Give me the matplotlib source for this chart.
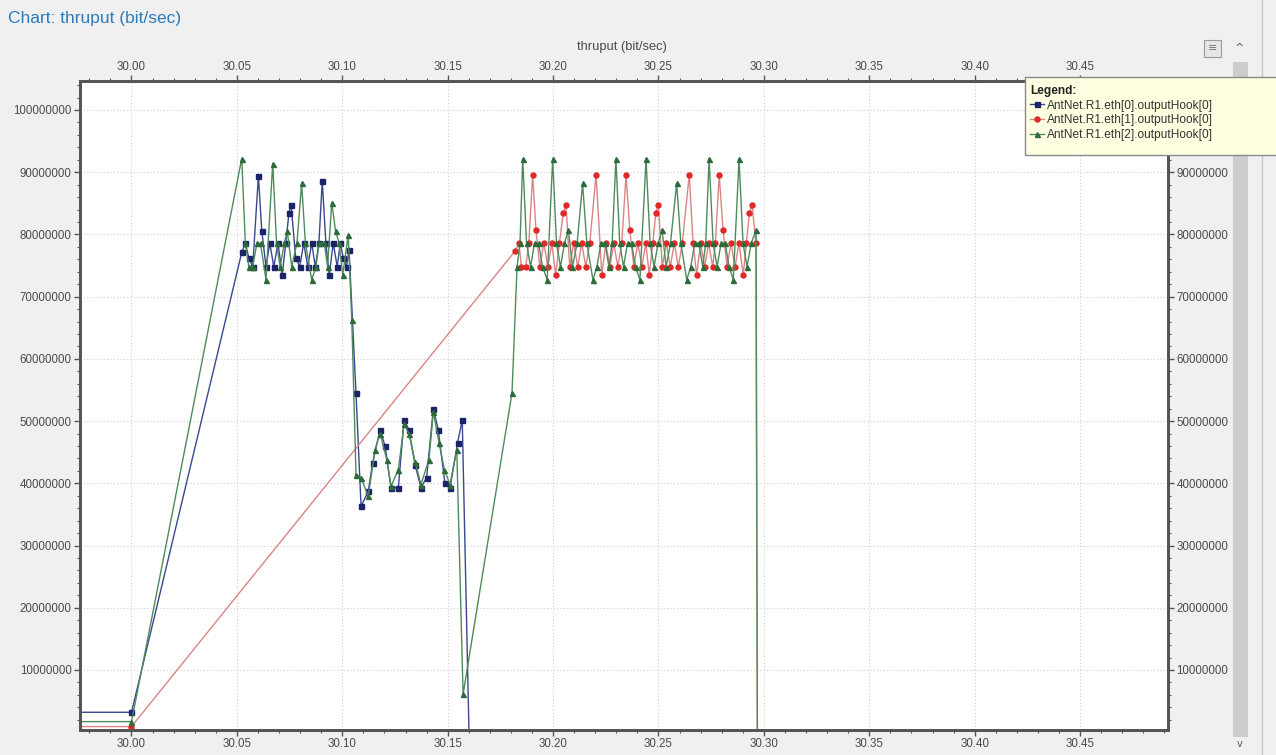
import matplotlib
matplotlib.use("Agg")
import matplotlib.pyplot as plt
from matplotlib.ticker import MultipleLocator, FuncFormatter
from matplotlib.patches import Rectangle
from matplotlib.lines import Line2D

# ---------------- data (time in s, throughput in Mbit/s) ----------------
blue_t = [29.90, 30.0000, 30.0523, 30.0540, 30.0557, 30.0575, 30.0602, 30.0618, 30.0638,
          30.0656, 30.0675, 30.0695, 30.0715, 30.0732, 30.0747, 30.0757, 30.0779, 30.0798,
          30.0817, 30.0836, 30.0855, 30.0872, 30.0889, 30.0905, 30.0922, 30.0938, 30.0957,
          30.0976, 30.0990, 30.1005, 30.1020, 30.1032, 30.1065, 30.1089, 30.1123, 30.1144,
          30.1179, 30.1203, 30.1231, 30.1266, 30.1293, 30.1316, 30.1345, 30.1373, 30.1400,
          30.1432, 30.1455, 30.1487, 30.1511, 30.1547, 30.1569, 30.1601]
blue_v = [3.2, 3.2, 77.1, 78.6, 76.2, 74.8, 89.4, 80.6, 74.8,
          78.6, 74.8, 78.6, 73.5, 78.6, 83.5, 84.8, 76.2, 74.8,
          78.6, 74.8, 78.6, 74.8, 78.6, 88.6, 78.6, 73.5, 78.6,
          74.8, 78.6, 76.2, 74.8, 77.5, 54.5, 36.3, 38.7, 43.3,
          48.6, 46.0, 39.3, 39.3, 50.2, 48.6, 43.0, 39.3, 40.9,
          52.0, 48.6, 40.0, 39.3, 46.5, 50.2, 0.0]

red_t = [29.90, 30.0000, 30.1819, 30.1838, 30.1850, 30.1870, 30.1885, 30.1903, 30.1919,
         30.1937, 30.1956, 30.1975, 30.1994, 30.2012, 30.2030, 30.2048, 30.2061, 30.2079,
         30.2098, 30.2117, 30.2136, 30.2155, 30.2174, 30.2204, 30.2231, 30.2250, 30.2269,
         30.2288, 30.2307, 30.2326, 30.2346, 30.2364, 30.2383, 30.2402, 30.2421, 30.2440,
         30.2456, 30.2473, 30.2487, 30.2499, 30.2518, 30.2537, 30.2556, 30.2575, 30.2594,
         30.2613, 30.2646, 30.2664, 30.2681, 30.2700, 30.2719, 30.2738, 30.2757, 30.2770,
         30.2788, 30.2806, 30.2825, 30.2844, 30.2863, 30.2882, 30.2902, 30.2917, 30.2931,
         30.2944, 30.2962, 30.2969]
red_v = [0.9, 0.9, 77.3, 78.6, 74.8, 74.8, 78.6, 89.6, 80.7,
         74.8, 78.6, 74.8, 78.6, 73.5, 78.6, 83.4, 84.8, 74.8,
         78.6, 74.8, 78.6, 74.8, 78.6, 89.6, 73.5, 78.6, 74.8,
         78.6, 74.8, 78.6, 89.6, 80.7, 74.8, 78.6, 74.8, 78.6,
         73.5, 78.6, 83.4, 84.8, 74.8, 78.6, 74.8, 78.6, 74.8,
         78.6, 89.6, 78.6, 73.5, 78.6, 74.8, 78.6, 74.8, 78.6,
         89.6, 80.7, 74.8, 78.6, 74.8, 78.6, 73.5, 78.6, 83.4,
         84.8, 78.6, 0.0]

green_t = [29.90, 30.0000, 30.0523, 30.0540, 30.0557, 30.0575, 30.0595, 30.0612, 30.0638,
           30.0670, 30.0688, 30.0705, 30.0725, 30.0739, 30.0760, 30.0785, 30.0807, 30.0825,
           30.0855, 30.0875, 30.0890, 30.0915, 30.0930, 30.0950, 30.0968, 30.0985, 30.1002,
           30.1028, 30.1045, 30.1065, 30.1089, 30.1123, 30.1155, 30.1179, 30.1211, 30.1231,
           30.1266, 30.1293, 30.1316, 30.1345, 30.1373, 30.1411, 30.1432, 30.1459, 30.1484,
           30.1511, 30.1543, 30.1573, 30.1805, 30.1829, 30.1843, 30.1856, 30.1874, 30.1893,
           30.1912, 30.1931, 30.1950, 30.1972, 30.1998, 30.2016, 30.2035, 30.2054, 30.2073,
           30.2092, 30.2114, 30.2140, 30.2160, 30.2189, 30.2208, 30.2227, 30.2246, 30.2265,
           30.2280, 30.2298, 30.2316, 30.2334, 30.2353, 30.2372, 30.2391, 30.2412, 30.2441,
           30.2460, 30.2479, 30.2498, 30.2517, 30.2536, 30.2557, 30.2586, 30.2606, 30.2634,
           30.2653, 30.2672, 30.2691, 30.2710, 30.2724, 30.2740, 30.2759, 30.2778, 30.2797,
           30.2816, 30.2835, 30.2855, 30.2882, 30.2901, 30.2920, 30.2940, 30.2963, 30.2969]
green_v = [1.7, 1.7, 92.2, 78.6, 74.8, 74.8, 78.6, 78.6, 72.7,
           91.4, 78.6, 74.8, 78.6, 80.5, 74.8, 78.6, 88.2, 78.6,
           72.7, 74.8, 78.6, 78.6, 74.8, 85.1, 80.5, 78.6, 73.5,
           79.9, 66.3, 41.4, 40.9, 37.9, 45.4, 48.0, 43.8, 39.5,
           42.2, 49.5, 48.0, 43.5, 39.8, 43.8, 51.5, 46.5, 42.2,
           39.8, 45.4, 6.1, 54.5, 74.8, 78.6, 92.1, 78.6, 74.8,
           78.6, 78.6, 74.8, 72.7, 92.1, 78.6, 74.8, 78.6, 80.7,
           74.8, 78.6, 88.2, 78.6, 72.7, 74.8, 78.6, 78.6, 74.8,
           78.6, 92.1, 78.6, 74.8, 78.6, 78.6, 74.8, 72.7, 92.1,
           78.6, 74.8, 78.6, 80.7, 74.8, 78.6, 88.2, 78.6, 72.7,
           74.8, 78.6, 78.6, 74.8, 78.6, 92.1, 78.6, 74.8, 78.6,
           78.6, 74.8, 72.7, 92.1, 78.6, 74.8, 78.6, 80.7, 0.0]

labels = ["AntNet.R1.eth[0].outputHook[0]",
          "AntNet.R1.eth[1].outputHook[0]",
          "AntNet.R1.eth[2].outputHook[0]"]
x_ticks = [30.00, 30.05, 30.10, 30.15, 30.20, 30.25, 30.30, 30.35, 30.40, 30.45]
y_ticks = [10e6, 20e6, 30e6, 40e6, 50e6, 60e6, 70e6, 80e6, 90e6, 100e6]

# ---------------- figure ----------------
W, H = 1276, 755
fig = plt.figure(figsize=(W / 100, H / 100), dpi=100)
fig.patch.set_facecolor("#f0f0f0")

def fx(px):
    return px / W

def fy(py):
    return 1 - py / H

ax = fig.add_axes([fx(80), fy(730), fx(1168) - fx(80), fy(81) - fy(730)])
ax.set_facecolor("white")

series = [
    (blue_t, blue_v, "#3a4790", "#1c2468", "s", labels[0]),
    (red_t, red_v, "#d98585", "#e02828", "o", labels[1]),
    (green_t, green_v, "#4f8a5c", "#2d6b3a", "^", labels[2]),
]
handles = []
for t, v, lc, mc, mk, lab in series:
    ln, = ax.plot(t, [val * 1e6 for val in v], color=lc, lw=1.0, marker=mk,
                  markersize=3.6, markerfacecolor=mc, markeredgecolor=mc, label=lab)
    handles.append(ln)

YLIM = (0.35e6, 104.66e6)
ax.set_xlim(29.97557, 30.4917)
ax.set_ylim(*YLIM)

ax.set_xticks(x_ticks)
ax.set_yticks(y_ticks)
ax.xaxis.set_minor_locator(MultipleLocator(0.01))
ax.yaxis.set_minor_locator(MultipleLocator(2e6))
ax.xaxis.set_major_formatter(FuncFormatter(lambda v, p: f"{v:.2f}"))
ax.yaxis.set_major_formatter(FuncFormatter(lambda v, p: f"{int(round(v))}"))

tick_font = dict(labelsize=8.3, labelcolor="#4a4a4a", colors="#555555",
                 labelfontfamily="Liberation Sans")
ax.tick_params(axis="both", which="major", direction="out", length=4, width=1, **tick_font)
ax.tick_params(axis="both", which="minor", direction="out", length=2.5, width=0.8, colors="#555555")
ax.tick_params(axis="x", which="both", top=True, labeltop=True, bottom=True, labelbottom=True, pad=2)
ax.tick_params(axis="y", which="both", left=True, labelleft=True, right=False, labelright=False, pad=2)

# right-hand axis (its top label is hidden behind the legend in the reference)
ax2 = ax.twinx()
ax2.set_ylim(*YLIM)
ax2.set_yticks(y_ticks)
ax2.yaxis.set_minor_locator(MultipleLocator(2e6))
ax2.yaxis.set_major_formatter(FuncFormatter(lambda v, p: "" if v > 99e6 else f"{int(round(v))}"))
ax2.tick_params(axis="y", which="major", direction="out", length=4, width=1, pad=2, **tick_font)
ax2.tick_params(axis="y", which="minor", direction="out", length=2.5, width=0.8, colors="#555555")

for a in (ax, ax2):
    for sp in a.spines.values():
        sp.set_color("#555555")
        sp.set_linewidth(2)

ax.grid(True, which="major", color="#cfcfcf", linestyle=(0, (1, 2)), linewidth=0.8)
ax.set_axisbelow(True)

# top axis title
fig.text(fx(622), fy(47), "thruput (bit/sec)", ha="center", va="center",
         fontsize=9.3, color="#4a4a4a", family="Liberation Sans")

# chart title
fig.text(fx(8), fy(18), "Chart: thruput (bit/sec)", ha="left", va="center",
         fontsize=12.5, color="#2b7bbd", family="Liberation Sans")

# scrollbar / panel decorations
fig.patches.append(Rectangle((fx(1233), fy(737)), fx(1248) - fx(1233), fy(62) - fy(737),
                             transform=fig.transFigure, facecolor="#cdcdcd", edgecolor="none"))
fig.lines.append(Line2D([fx(1262), fx(1262)], [0, 1], transform=fig.transFigure,
                        color="#c8c8c8", lw=1))
fig.patches.append(Rectangle((fx(1204), fy(57)), fx(17), fy(0) - fy(17),
                             transform=fig.transFigure, facecolor="#e6e6e6", edgecolor="#9a9a9a", lw=0.8))
fig.text(fx(1213), fy(48.5), "≡", ha="center", va="center", fontsize=8, color="#777777")
fig.text(fx(1240), fy(48), "^", ha="center", va="center", fontsize=8, color="#555555")
fig.text(fx(1240), fy(744), "v", ha="center", va="center", fontsize=7, color="#555555")

# legend box (drawn as a panel, partly cut by the figure edge like the reference)
fig.patches.append(Rectangle((fx(1025), fy(155)), fx(1290) - fx(1025), fy(77) - fy(155),
                             transform=fig.transFigure, facecolor="#ffffe1",
                             edgecolor="#8a8a8a", lw=1, zorder=4))
leg = fig.legend(handles, labels, title="Legend:", loc="upper left",
                 bbox_to_anchor=(fx(1030), fy(85)), bbox_transform=fig.transFigure,
                 frameon=False, fontsize=8.6, title_fontsize=8.6, alignment="left",
                 borderpad=0.0, labelspacing=0.22, handlelength=1.2, handletextpad=0.25,
                 borderaxespad=0, prop={"family": "Liberation Sans", "size": 8.6})
leg.set_zorder(5)
leg.get_title().set_fontweight("bold")
leg.get_title().set_fontfamily("Liberation Sans")
leg.get_title().set_color("#222222")
for txt in leg.get_texts():
    txt.set_color("#333333")

fig.savefig("out.png", dpi=100, facecolor=fig.get_facecolor())
